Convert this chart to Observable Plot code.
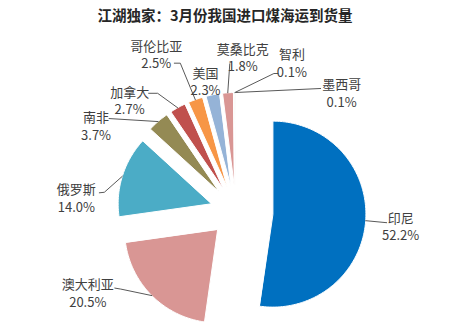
<!DOCTYPE html>
<html>
<head>
<meta charset="utf-8">
<script src="https://cdn.jsdelivr.net/npm/d3@7"></script>
<script src="https://cdn.jsdelivr.net/npm/@observablehq/plot@0.6"></script>
<style>
  html, body { margin: 0; padding: 0; background: #fff; }
  #chart svg { display: block; }
</style>
</head>
<body>
<div id="chart"></div>
<script>
// ---- data ----
const title = "江湖独家：3月份我国进口煤海运到货量";
const countries = ["印尼", "澳大利亚", "俄罗斯", "南非", "加拿大", "哥伦比亚", "美国", "莫桑比克", "智利", "墨西哥"];
const shares = [52.2, 20.5, 14.0, 3.7, 2.7, 2.5, 2.3, 1.8, 0.1, 0.1];
const colors = ["#0070C0", "#D99694", "#4BACC6", "#948A54", "#C0504D", "#F79646", "#95B3D7", "#D99694", "#C3D69B", "#BFBFBF"];

// ---- layout (styles / positions, not data) ----
const W = 461, H = 331;
const pieCenter = [235.5, 211];
const pieRadius = 93;
const explode = [37, 26, 26, 26, 26, 26, 26, 26, 26, 26];
// label block centre offset from the slice's outer midpoint
const labelOffset = [[35, 5], [-64, -3], [-46, 21], [-62, 4], [-48, -8], [-39, -46], [-7, -14], [15, -36], [57, -30], [106, 0]];
// leader elbow points relative to label centre (line ends at slice outer midpoint)
const leaderElbows = [
  [[-14, -3]],
  [[27, -4.5], [33, -3.5]],
  [[23, -4.5], [28, -5]],
  [[13, -7]],
  [[19, -6.5], [28, -6.5]],
  [[18, 9.5], [24, 9.5]],
  null,
  [[-13, 7]],
  [[-14, 11], [-18, 11]],
  [[-21, -4]]
];

// ---- geometry from data ----
const arcs = d3.pie().sort(null).value(d => d)(shares);
const slices = countries.map((name, i) => {
  const a0 = arcs[i].startAngle, a1 = arcs[i].endAngle, mid = (a0 + a1) / 2;
  const ax = pieCenter[0] + explode[i] * Math.sin(mid);
  const ay = pieCenter[1] - explode[i] * Math.cos(mid);
  const ox = ax + pieRadius * Math.sin(mid);
  const oy = ay - pieRadius * Math.cos(mid);
  return {name, share: shares[i], color: colors[i], a0, a1, ax, ay, ox, oy,
          lx: ox + labelOffset[i][0], ly: oy + labelOffset[i][1]};
});

const polyPoints = [];
for (const s of slices) {
  polyPoints.push({name: s.name, color: s.color, x: s.ax, y: s.ay});
  const n = Math.max(2, Math.ceil((s.a1 - s.a0) / (Math.PI / 180)) + 1);
  for (let k = 0; k < n; k++) {
    const a = s.a0 + (s.a1 - s.a0) * k / (n - 1);
    polyPoints.push({name: s.name, color: s.color, x: s.ax + pieRadius * Math.sin(a), y: s.ay - pieRadius * Math.cos(a)});
  }
}

const leaderPoints = [];
slices.forEach((s, i) => {
  const el = leaderElbows[i];
  if (!el) return;
  for (const [dx, dy] of el) leaderPoints.push({name: s.name, x: s.lx + dx, y: s.ly + dy});
  leaderPoints.push({name: s.name, x: s.ox, y: s.oy});
});

const font = "'Noto Sans CJK SC', 'Noto Sans', sans-serif";

const chart = Plot.plot({
  width: W,
  height: H,
  margin: 0,
  x: {domain: [0, W], range: [0, W], axis: null},
  y: {domain: [0, H], range: [0, H], axis: null},
  color: {type: "identity"},
  style: {fontFamily: font, background: "#fff"},
  marks: [
    Plot.line(polyPoints, {x: "x", y: "y", z: "name", fill: "color", stroke: "white", strokeWidth: 1, curve: "linear-closed"}),
    Plot.line(leaderPoints, {x: "x", y: "y", z: "name", stroke: "#595959", strokeWidth: 1}),
    Plot.text(slices, {x: "lx", y: "ly", text: d => `${d.name}\n${d.share.toFixed(1)}%`,
      fontSize: 13, lineHeight: 1.35, lineAnchor: "middle", textAnchor: "middle", fill: "#404040", fontFamily: font}),
    Plot.text([title], {frameAnchor: "top", dx: -6, dy: 16, lineAnchor: "middle", text: d => d,
      fontSize: 14.5, fontWeight: "bold", fill: "#262626", fontFamily: font})
  ]
});
document.getElementById("chart").appendChild(chart);
</script>
</body>
</html>
